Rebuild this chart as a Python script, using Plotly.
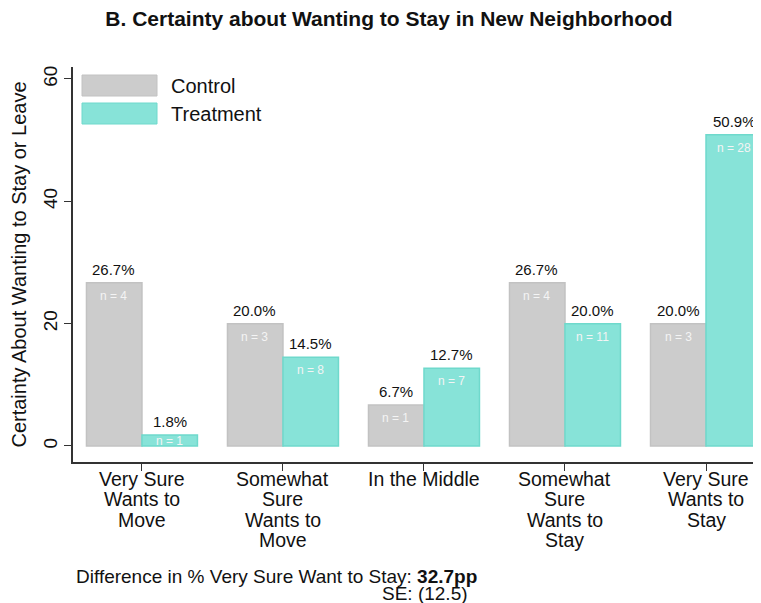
import plotly.graph_objects as go

categories = ["Very Sure<br>Wants to<br>Move", "Somewhat<br>Sure<br>Wants to<br>Move", "In the Middle",
              "Somewhat<br>Sure<br>Wants to<br>Stay", "Very Sure<br>Wants to<br>Stay"]
control_pct = [26.7, 20.0, 6.7, 26.7, 20.0]
treatment_pct = [1.8, 14.5, 12.7, 20.0, 50.9]
control_n = [4, 3, 1, 4, 3]
treatment_n = [1, 8, 7, 11, 28]
y_ticks = [0, 20, 40, 60]

FONT = "Liberation Sans, Arial, Helvetica, sans-serif"
INK = "#111111"
CTRL_FILL = "#cccccc"
CTRL_LINE = "#c2c2c2"
TRT_FILL = "#87e3d8"
TRT_LINE = "#6fd9cc"

W, H = 753, 595          # page has an 8px body margin
PL, PR, PT, PB = 65, 0, 59, 141
PW, PH = W - PL - PR, H - PT - PB
Y_RANGE = [-2.62, 61.96]
PX_PER_UNIT = PH / (Y_RANGE[1] - Y_RANGE[0])


def px(xf):  # figure-pixel x -> paper fraction
    return (xf - PL) / PW


def py(yf):  # figure-pixel y -> paper fraction
    return (H - PB - yf) / PH


xs = list(range(len(categories)))

fig = go.Figure()
fig.add_trace(go.Bar(x=xs, y=control_pct, name="Control",
                     marker=dict(color=CTRL_FILL, line=dict(color=CTRL_LINE, width=1.5)),
                     showlegend=False, hoverinfo="skip"))
fig.add_trace(go.Bar(x=xs, y=treatment_pct, name="Treatment",
                     marker=dict(color=TRT_FILL, line=dict(color=TRT_LINE, width=1.5)),
                     showlegend=False, hoverinfo="skip"))

annotations = []
for i in xs:
    for val, n, shift in [(control_pct[i], control_n[i], -28), (treatment_pct[i], treatment_n[i], 28)]:
        annotations.append(dict(x=i, y=val, xref="x", yref="y", xshift=shift, yshift=3,
                                text=f"{val:.1f}%", showarrow=False, yanchor="bottom",
                                font=dict(family=FONT, size=15, color=INK)))
        drop = min(13, val * PX_PER_UNIT / 2 + 0.5)
        annotations.append(dict(x=i, y=val, xref="x", yref="y", xshift=shift, yshift=-drop,
                                text=f"n = {n}", showarrow=False, yanchor="middle",
                                font=dict(family=FONT, size=12, color="#f4f4f4")))
    # category labels, one line each (tight line spacing)
    for k, line in enumerate(categories[i].split("<br>")):
        annotations.append(dict(x=i, y=0, xref="x", yref="paper", yshift=-(17 + 20.4 * k),
                                text=line, showarrow=False, yanchor="middle", xanchor="center",
                                font=dict(family=FONT, size=19.5, color=INK)))

# legend (drawn)
shapes = [
    dict(type="rect", xref="paper", yref="paper", x0=px(74), x1=px(149), y0=py(88), y1=py(67),
         fillcolor=CTRL_FILL, line=dict(color=CTRL_LINE, width=1)),
    dict(type="rect", xref="paper", yref="paper", x0=px(74), x1=px(149), y0=py(116), y1=py(95),
         fillcolor=TRT_FILL, line=dict(color=TRT_LINE, width=1)),
]
annotations.append(dict(x=px(161), y=py(78), xref="paper", yref="paper", text="Control",
                        showarrow=False, xanchor="left", yanchor="middle", font=dict(family=FONT, size=20, color=INK)))
annotations.append(dict(x=px(161), y=py(106), xref="paper", yref="paper", text="Treatment",
                        showarrow=False, xanchor="left", yanchor="middle", font=dict(family=FONT, size=20, color=INK)))

# footer
annotations.append(dict(x=px(66), y=py(568), xref="paper", yref="paper",
                        text="Difference in % Very Sure Want to Stay: <b>32.7pp</b>",
                        showarrow=False, xanchor="left", yanchor="middle", font=dict(family=FONT, size=19, color=INK)))
annotations.append(dict(x=px(462), y=py(585), xref="paper", yref="paper",
                        text="SE: (12.5)",
                        showarrow=False, xanchor="right", yanchor="middle", font=dict(family=FONT, size=19, color=INK)))

fig.update_layout(
    width=W, height=H,
    margin=dict(l=PL, r=PR, t=PT, b=PB),
    paper_bgcolor="white", plot_bgcolor="white",
    barmode="group", bargap=0.213, bargroupgap=0,
    title=dict(text="<b>B. Certainty about Wanting to Stay in New Neighborhood</b>", x=381 / W, xanchor="center",
               y=1 - 11 / H, yanchor="middle", font=dict(family=FONT, size=21, color=INK)),
    xaxis=dict(range=[-0.489, 4.39], tickmode="array", tickvals=xs, ticktext=[""] * len(xs),
               showline=True, linecolor="#333333", linewidth=1.5, ticks="outside", ticklen=7,
               tickcolor="#333333", tickwidth=1.2, showgrid=False, zeroline=False, fixedrange=True),
    yaxis=dict(range=Y_RANGE, tickvals=y_ticks, showline=True, linecolor="#333333", linewidth=1.5,
               ticks="outside", ticklen=7, tickcolor="#333333", tickwidth=1.2, showgrid=False, zeroline=False,
               tickangle=-90, tickfont=dict(family=FONT, size=19, color=INK),
               title=dict(text="Certainty About Wanting to Stay or Leave", standoff=8,
                          font=dict(family=FONT, size=20, color=INK))),
    shapes=shapes,
    annotations=annotations,
    showlegend=False,
)

fig.write_html("out.html")
